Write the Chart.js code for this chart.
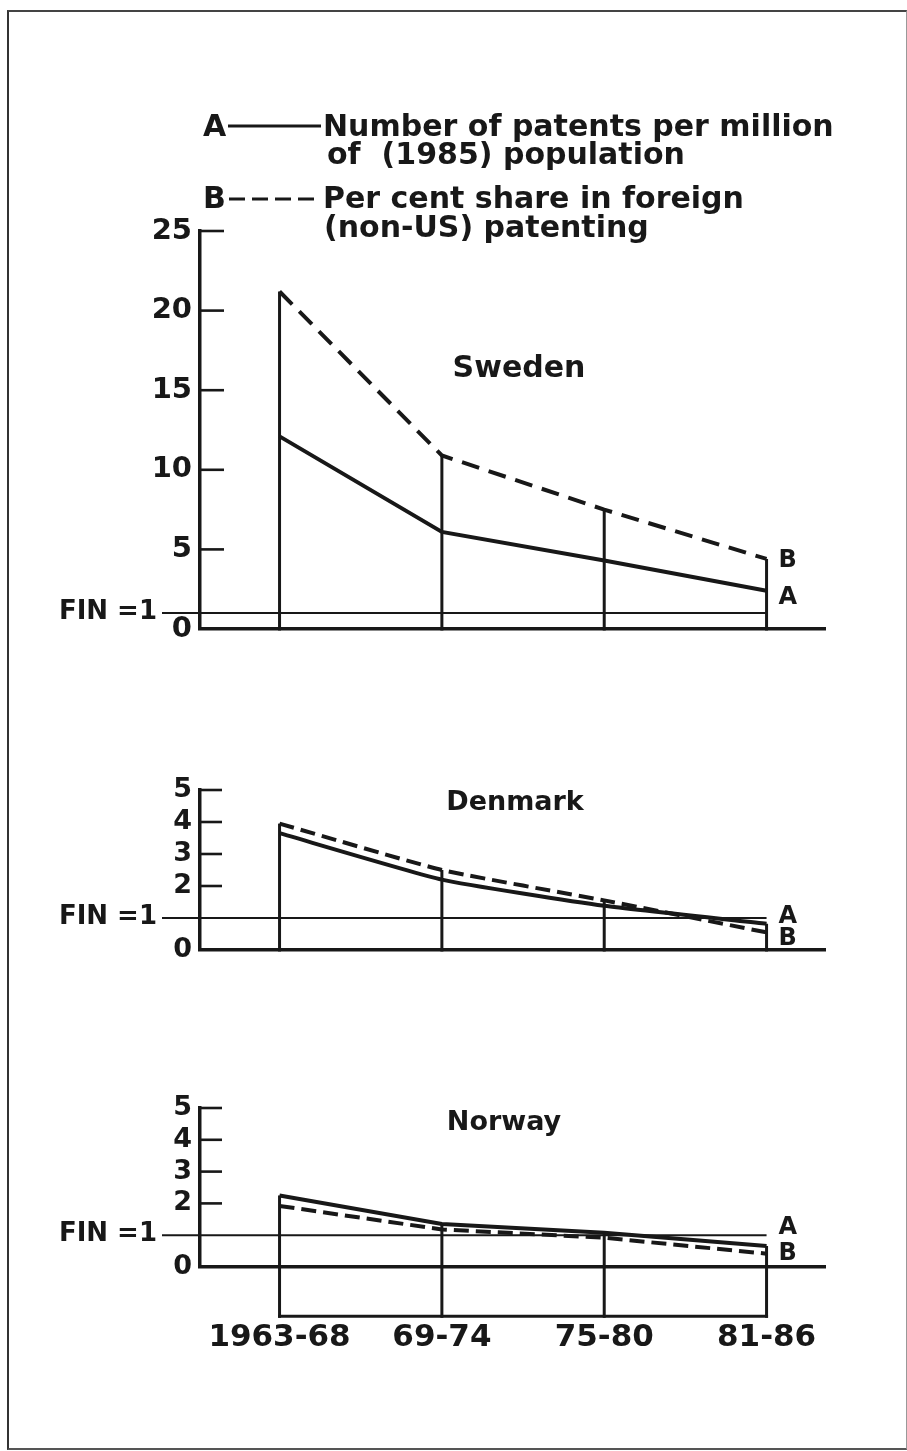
<!DOCTYPE html>
<html><head><meta charset="utf-8">
<script src="https://cdn.jsdelivr.net/npm/chart.js@4.4.1/dist/chart.umd.min.js"></script>
<style>
html,body{margin:0;padding:0;background:#fff;}
body{width:907px;height:1451px;position:relative;overflow:hidden;}
canvas{position:absolute;left:0;}
#frame{position:absolute;left:7px;top:10px;width:897px;height:1436px;border-left:2px solid #333;border-top:2px solid #444;border-bottom:2px solid #555;border-right:1px solid #999;}
</style></head><body>
<div id="frame"></div>
<canvas id="c1" width="907" height="680" style="top:0px"></canvas>
<canvas id="c2" width="907" height="320" style="top:680px"></canvas>
<canvas id="c3" width="907" height="451" style="top:1000px"></canvas>
<script>
// ---- data ----
const periods = ['1963-68', '69-74', '75-80', '81-86'];
const swedenA = [12.1, 6.1, 4.3, 2.4];
const swedenB = [21.2, 10.9, 7.5, 4.4];
const denmarkA = [3.65, 2.2, 1.38, 0.82];
const denmarkB = [3.95, 2.5, 1.55, 0.55];
const norwayA = [2.25, 1.35, 1.08, 0.66];
const norwayB = [1.92, 1.18, 0.92, 0.42];
const swedenTicks = [0, 5, 10, 15, 20, 25];
const smallTicks = [0, 2, 3, 4, 5];
const finLevel = 1;
const finLabel = 'FIN =1';
const legendA = ['Number of patents per million', 'of  (1985) population'];
const legendB = ['Per cent share in foreign', '(non-US) patenting'];

const INK = '#181818';
const FAM = '"DejaVu Sans", "Liberation Sans", sans-serif';

const panelPlugin = {
  id: 'panel',
  afterDraw(chart, args, o) {
    const { ctx, chartArea, scales: { x, y } } = chart;
    const line = (x1, y1, x2, y2) => { ctx.beginPath(); ctx.moveTo(x1, y1); ctx.lineTo(x2, y2); ctx.stroke(); };
    ctx.save();
    ctx.strokeStyle = INK; ctx.fillStyle = INK; ctx.lineCap = 'butt';
    // inward tick marks
    ctx.lineWidth = 2.6;
    y.ticks.forEach(t => {
      if (t.value === 0) return;
      const py = y.getPixelForValue(t.value);
      line(chartArea.left, py, chartArea.left + o.tickLen, py);
    });
    // drop lines
    const A = chart.data.datasets[0].data, B = chart.data.datasets[1].data;
    ctx.lineWidth = 3;
    A.forEach((p, i) => {
      const px = x.getPixelForValue(p.x);
      const top = Math.max(p.y, B[i].y);
      line(px, y.getPixelForValue(top), px, y.getPixelForValue(o.dropTo) + 1.5);
    });
    if (o.dropTo < 0) {
      const ly = y.getPixelForValue(o.dropTo);
      line(x.getPixelForValue(A[0].x) - 1.5, ly, x.getPixelForValue(A[A.length - 1].x) + 1.5, ly);
    }
    // FIN line and label
    const fy = y.getPixelForValue(finLevel);
    ctx.lineWidth = 2;
    line(o.finStart, fy, x.getPixelForValue(A[A.length - 1].x), fy);
    ctx.font = 'bold ' + o.finSize + 'px ' + FAM;
    ctx.textAlign = 'right'; ctx.textBaseline = 'middle';
    ctx.fillText(finLabel, o.finStart - 5, fy - 1);
    // series end labels
    ctx.font = 'bold 24px ' + FAM;
    ctx.textAlign = 'left'; ctx.textBaseline = 'middle';
    const lx = x.getPixelForValue(A[A.length - 1].x) + 12;
    ctx.fillText('A', lx, y.getPixelForValue(o.labA));
    ctx.fillText('B', lx, y.getPixelForValue(o.labB));
    // title
    ctx.font = 'bold ' + o.titleSize + 'px ' + FAM;
    ctx.textAlign = 'center'; ctx.textBaseline = 'alphabetic';
    ctx.fillText(o.title, o.titleX, o.titleY);
    // legend
    if (o.legend) {
      ctx.font = 'bold 30px ' + FAM;
      ctx.textAlign = 'left';
      ctx.fillText('A', 203, 136);
      ctx.fillText(legendA[0], 323, 136);
      ctx.fillText(legendA[1], 327, 164);
      ctx.fillText('B', 203, 208);
      ctx.fillText(legendB[0], 323, 208);
      ctx.fillText(legendB[1], 324, 237);
      ctx.lineWidth = 3.2;
      line(228, 126, 321, 126);
      ctx.setLineDash([16, 7]);
      line(229, 199, 321, 199);
      ctx.setLineDash([]);
    }
    ctx.restore();
  }
};

function makePanel(id, A, B, o) {
  const toPts = arr => arr.map((v, i) => ({ x: i, y: v }));
  return new Chart(document.getElementById(id), {
    type: 'line',
    data: {
      datasets: [
        { label: 'A', data: toPts(A), borderColor: INK, borderWidth: 4, pointRadius: 0, tension: o.tension, fill: false },
        { label: 'B', data: toPts(B), borderColor: INK, borderWidth: 4, borderDash: o.dash, pointRadius: 0, tension: o.tension, fill: false }
      ]
    },
    options: {
      responsive: false, animation: false, devicePixelRatio: 1,
      layout: { padding: { top: o.padTop, right: 82, left: 0, bottom: 0 } },
      plugins: { legend: { display: false }, tooltip: { enabled: false }, panel: o.panel },
      scales: {
        x: {
          type: 'linear', min: -0.49, max: 3.36,
          grid: { display: false, drawTicks: false },
          border: { display: true, width: 3.5, color: INK },
          afterBuildTicks: s => { s.ticks = periods.map((p, i) => ({ value: i })); },
          ticks: {
            display: o.showX, autoSkip: false, maxRotation: 0, padding: o.xPad, color: INK,
            font: { family: FAM, size: 31, weight: 'bold' },
            callback: v => periods[v]
          },
          afterFit: s => { s.height = o.xHeight; }
        },
        y: {
          type: 'linear', min: 0, max: o.yMax,
          grid: { display: false, drawTicks: false },
          border: { display: true, width: 3.5, color: INK },
          afterBuildTicks: s => { s.ticks = o.ticks.map(v => ({ value: v })); },
          ticks: { padding: 8, color: INK, font: { family: FAM, size: o.tickSize, weight: 'bold' }, callback: v => String(v) },
          afterFit: s => { s.width = 200; }
        }
      }
    },
    plugins: [panelPlugin]
  });
}

makePanel('c1', swedenA, swedenB, {
  padTop: 231, xHeight: 51, showX: false, xPad: 0, yMax: 25, ticks: swedenTicks, tickSize: 29,
  dash: [18, 10], tension: 0,
  panel: { tickLen: 24, dropTo: 0, finStart: 162, finSize: 26, labA: 1.95, labB: 4.3,
           title: 'Sweden', titleSize: 30, titleX: 519, titleY: 377, legend: true }
});
makePanel('c2', denmarkA, denmarkB, {
  padTop: 110, xHeight: 50, showX: false, xPad: 0, yMax: 5, ticks: smallTicks, tickSize: 27,
  dash: [15, 7], tension: 0.15,
  panel: { tickLen: 22, dropTo: 0, finStart: 162, finSize: 26, labA: 1.05, labB: 0.35,
           title: 'Denmark', titleSize: 27, titleX: 515, titleY: 130, legend: false }
});
makePanel('c3', norwayA, norwayB, {
  padTop: 108, xHeight: 184, showX: true, xPad: 52, yMax: 5, ticks: smallTicks, tickSize: 27,
  dash: [15, 7], tension: 0,
  panel: { tickLen: 22, dropTo: -1.55, finStart: 162, finSize: 26, labA: 1.22, labB: 0.42,
           title: 'Norway', titleSize: 27, titleX: 504, titleY: 130, legend: false }
});
</script>
</body></html>
